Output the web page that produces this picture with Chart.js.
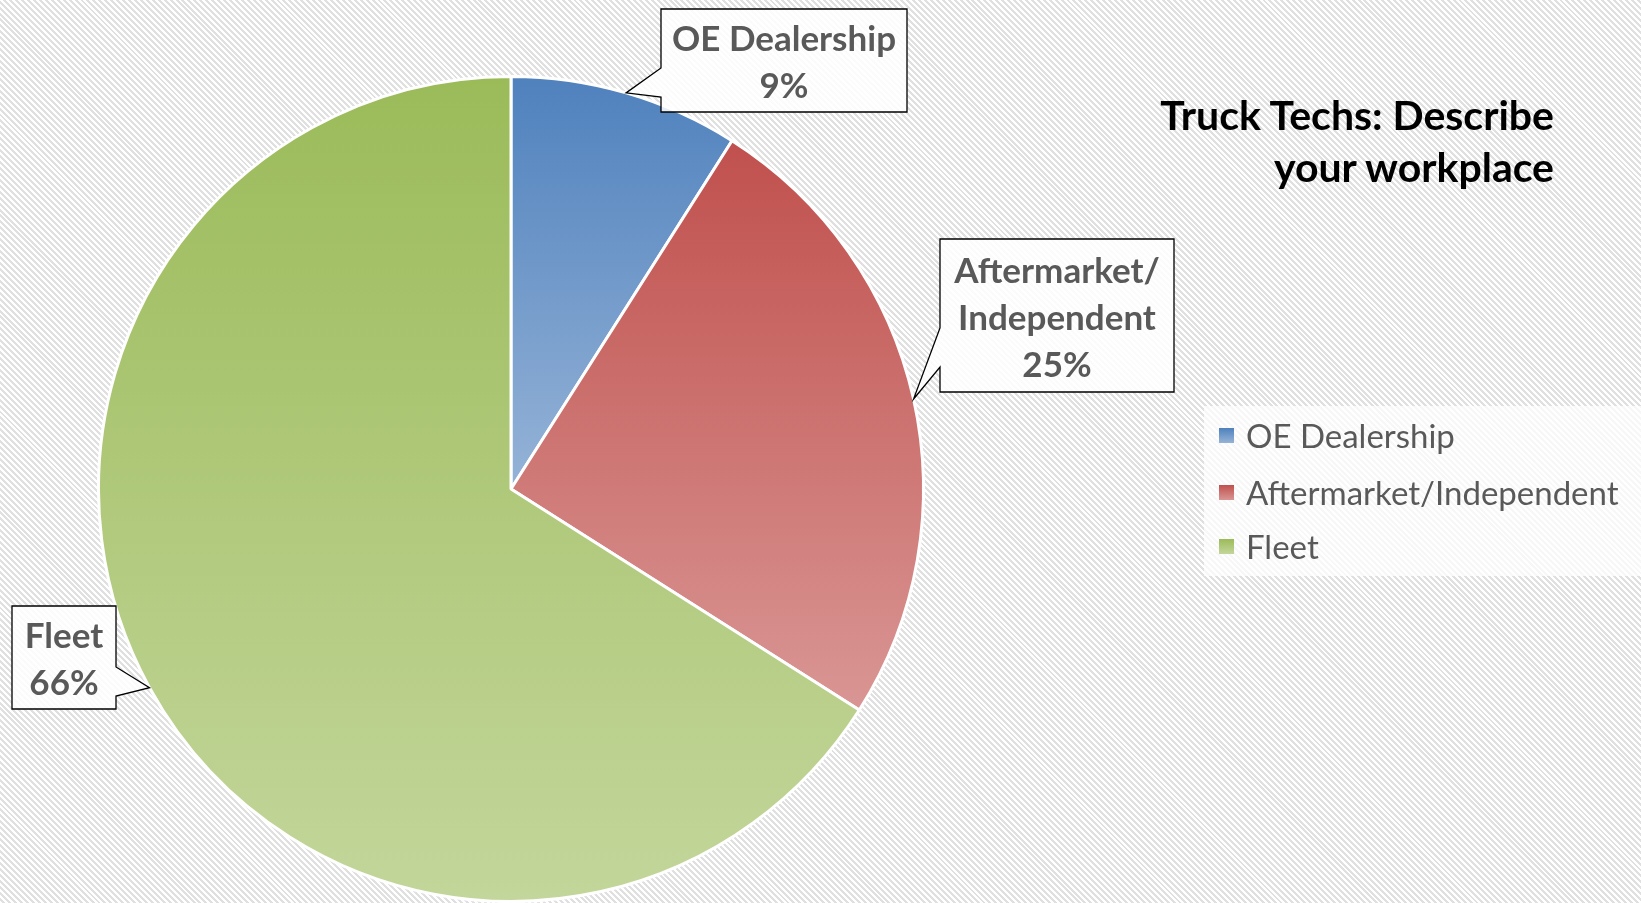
<!DOCTYPE html>
<html>
<head>
<meta charset="utf-8">
<script src="https://cdn.jsdelivr.net/npm/chart.js@4/dist/chart.umd.min.js"></script>
<style>
  html, body { margin:0; padding:0; }
  body {
    width:1641px; height:903px; overflow:hidden; position:relative;
    background: repeating-linear-gradient(45deg, #ffffff 0px, #ffffff 2.1px, #e0e0e0 2.1px, #e0e0e0 4.2px);
    font-family: Lato, "Open Sans", sans-serif;
  }
  #c { position:absolute; left:0; top:0; }
  #title {
    position:absolute; right:87px; top:89px; text-align:right;
    font-weight:bold; font-size:41px; line-height:52px; color:#000;
  }
  #legend {
    position:absolute; left:1204px; top:406px; width:437px; height:170px;
    background: rgba(255,255,255,0.72);
  }
  .item { position:absolute; left:15px; height:40px; display:flex; align-items:center;
    font-size:33px; color:#595959; white-space:nowrap; }
  .mk { width:15px; height:15px; margin-right:12px; }
</style>
</head>
<body>
<canvas id="c" width="1641" height="903"></canvas>
<div id="title"></div>
<div id="legend"></div>
<script>
// ---- data ----
const categories = ['OE Dealership', 'Aftermarket/Independent', 'Fleet'];
const shares = [9, 25, 66];
const calloutNames = [['OE Dealership'], ['Aftermarket/', 'Independent'], ['Fleet']];
const chartTitle = ['Truck Techs: Describe', 'your workplace'];

// ---- styles ----
const topColors = ['#4f81bd', '#c0504d', '#9bbb59'];
const bottomColors = ['#95b3d7', '#d99694', '#c3d69b'];

// callout box layout (pixels)
const calloutBoxes = [
  { x: 661, y: 9,   w: 246, h: 103, side: 'left',  a: 68,  b: 97 },
  { x: 940, y: 239, w: 234, h: 153, side: 'left',  a: 328, b: 367 },
  { x: 12,  y: 606, w: 104, h: 103, side: 'right', a: 667, b: 696 }
];

document.getElementById('title').innerHTML = chartTitle.join('<br>');

const legend = document.getElementById('legend');
const legendTops = [9, 66, 120];
categories.forEach((name, i) => {
  const d = document.createElement('div');
  d.className = 'item';
  d.style.top = legendTops[i] + 'px';
  const m = document.createElement('div');
  m.className = 'mk';
  m.style.background = `linear-gradient(${topColors[i]}, ${bottomColors[i]})`;
  d.appendChild(m);
  d.appendChild(document.createTextNode(name));
  legend.appendChild(d);
});

const total = shares.reduce((a, b) => a + b, 0);

function sliceGradient(ctx) {
  const chart = ctx.chart;
  const i = ctx.dataIndex;
  const ca = chart.chartArea;
  if (!ca) return topColors[i];
  const cx = (ca.left + ca.right) / 2, cy = (ca.top + ca.bottom) / 2;
  const r = Math.min(ca.width, ca.height) / 2;
  let cum = 0;
  for (let k = 0; k < i; k++) cum += shares[k];
  const a0 = -Math.PI / 2 + 2 * Math.PI * cum / total;
  const a1 = a0 + 2 * Math.PI * shares[i] / total;
  let ys = [cy, cy + r * Math.sin(a0), cy + r * Math.sin(a1)];
  for (const t of [-Math.PI / 2, Math.PI / 2, 3 * Math.PI / 2]) {
    if (t >= a0 - 1e-9 && t <= a1 + 1e-9) ys.push(cy + r * Math.sin(t));
  }
  const ymin = Math.min(...ys), ymax = Math.max(...ys);
  const g = chart.ctx.createLinearGradient(0, ymin, 0, ymax);
  g.addColorStop(0, topColors[i]);
  g.addColorStop(1, bottomColors[i]);
  return g;
}

const calloutPlugin = {
  id: 'callouts',
  afterDatasetsDraw(chart) {
    const ctx = chart.ctx;
    const meta = chart.getDatasetMeta(0);
    meta.data.forEach((arc, i) => {
      const bx = calloutBoxes[i];
      const mid = (arc.startAngle + arc.endAngle) / 2;
      const tx = arc.x + Math.cos(mid) * arc.outerRadius;
      const ty = arc.y + Math.sin(mid) * arc.outerRadius;
      ctx.save();
      ctx.beginPath();
      const L = bx.x, R = bx.x + bx.w, T = bx.y, B = bx.y + bx.h;
      ctx.moveTo(L, T);
      ctx.lineTo(R, T);
      if (bx.side === 'right') {
        ctx.lineTo(R, bx.a); ctx.lineTo(tx, ty); ctx.lineTo(R, bx.b);
      }
      ctx.lineTo(R, B);
      ctx.lineTo(L, B);
      if (bx.side === 'left') {
        ctx.lineTo(L, bx.b); ctx.lineTo(tx, ty); ctx.lineTo(L, bx.a);
      }
      ctx.closePath();
      ctx.fillStyle = 'rgba(255,255,255,0.85)';
      ctx.fill();
      ctx.lineWidth = 1.3;
      ctx.strokeStyle = '#000';
      ctx.stroke();

      const lines = calloutNames[i].concat([shares[i] + '%']);
      const lh = 47;
      const cxText = (L + R) / 2;
      const cyBox = (T + B) / 2 + 3;
      ctx.fillStyle = '#595959';
      ctx.font = 'bold 35px Lato, "Open Sans", sans-serif';
      ctx.textAlign = 'center';
      ctx.textBaseline = 'middle';
      lines.forEach((s, k) => {
        const y = cyBox + (k - (lines.length - 1) / 2) * lh;
        ctx.fillText(s, cxText, y);
      });
      ctx.restore();
    });
  }
};

new Chart(document.getElementById('c'), {
  type: 'pie',
  data: {
    labels: categories,
    datasets: [{
      data: shares,
      backgroundColor: sliceGradient,
      borderColor: '#ffffff',
      borderWidth: 3
    }]
  },
  options: {
    responsive: false,
    animation: false,
    layout: { padding: { left: 97, right: 716, top: 75, bottom: 0 } },
    plugins: { legend: { display: false }, tooltip: { enabled: false }, title: { display: false } }
  },
  plugins: [calloutPlugin]
});
</script>
</body>
</html>
